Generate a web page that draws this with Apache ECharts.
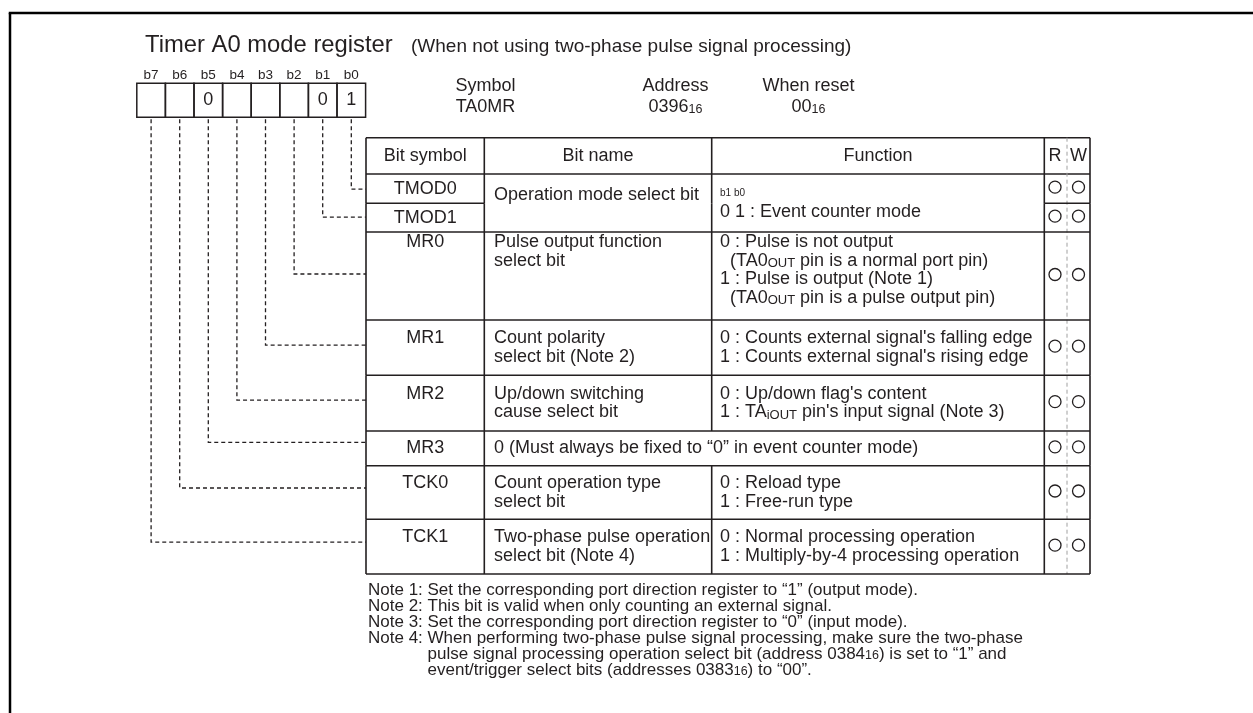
<!DOCTYPE html>
<html>
<head>
<meta charset="utf-8">
<script src="https://cdn.jsdelivr.net/npm/echarts@6.0.0/dist/echarts.min.js"></script>
<style>
html,body{margin:0;padding:0;background:#ffffff;}
#chart{width:1253px;height:713px;}
</style>
</head>
<body>
<div id="chart"></div>
<script>
// ===== data =====
const titleText = 'Timer A0 mode register';
const subtitleText = '(When not using two-phase pulse signal processing)';
const bitLabels = ['b7', 'b6', 'b5', 'b4', 'b3', 'b2', 'b1', 'b0'];
const bitValues = ['', '', '0', '', '', '', '0', '1'];
const infoLabels = ['Symbol', 'Address', 'When reset'];
const infoValues = ['TA0MR', '0396{sub|16}', '00{sub|16}'];
const headerLabels = ['Bit symbol', 'Bit name', 'Function', 'R', 'W'];
const bitSymbols = ['TMOD0', 'TMOD1', 'MR0', 'MR1', 'MR2', 'MR3', 'TCK0', 'TCK1'];
const bitNames = [
  'Operation mode select bit',
  null,
  'Pulse output function\nselect bit',
  'Count polarity\nselect bit (Note 2)',
  'Up/down switching\ncause select bit',
  '0 (Must always be fixed to “0” in event counter mode)',
  'Count operation type\nselect bit',
  'Two-phase pulse operation\nselect bit (Note 4)'
];
const bitFunctions = [
  '{tiny|b1 b0}\n0 1 : Event counter mode',
  null,
  '0 : Pulse is not output\n  (TA0{sc|OUT} pin is a normal port pin)\n1 : Pulse is output (Note 1)\n  (TA0{sc|OUT} pin is a pulse output pin)',
  "0 : Counts external signal's falling edge\n1 : Counts external signal's rising edge",
  "0 : Up/down flag's content\n1 : TA{sc|iOUT} pin's input signal (Note 3)",
  null,
  '0 : Reload type\n1 : Free-run type',
  '0 : Normal processing operation\n1 : Multiply-by-4 processing operation'
];
const readable = [true, true, true, true, true, true, true, true];
const writable = [true, true, true, true, true, true, true, true];
const notes = [
  ['Note 1: ', 'Set the corresponding port direction register to “1” (output mode).'],
  ['Note 2: ', 'This bit is valid when only counting an external signal.'],
  ['Note 3: ', 'Set the corresponding port direction register to “0” (input mode).'],
  ['Note 4: ', 'When performing two-phase pulse signal processing, make sure the two-phase\npulse signal processing operation select bit (address 0384{sub|16}) is set to “1” and\nevent/trigger select bits (addresses 0383{sub|16}) to “00”.']
];

// ===== layout & style =====
const FONT = "'Liberation Sans', Arial, Helvetica, sans-serif";
const INK = '#231f20';
const BODY = 18;
const NOTE = 17;
const LAY = {
  frameX: 10, frameY: 13,
  titleX: 145, titleY: 45.8, titleSize: 23.8,
  subX: 411, subY: 47.2, subSize: 19,
  infoX: [485.5, 675.5, 808.5], infoLabelY: 86, infoValueY: 107,
  regLeft: 136.8, regTop: 83.3, regBottom: 117.3, cellW: 28.6, bitLabelY: 75, bitValueY: 100.5,
  tblTop: 137.7, headBottom: 174, headY: 156,
  rowBottoms: [203.3, 232, 320, 375.3, 431, 465.7, 519.3, 574],
  colX: [366, 484.3, 711.7, 1044.3, 1090],
  rwDivX: 1067, rX: 1055, wX: 1078.5, circleR: 6,
  leaderOffset: [0.5, -0.5, -2, -2.5, -3, -6, -4.5, -4.5],
  lineH: 18.6, padTop: 10, topRows: [2], spanNameShift: -8,
  nameX: 494, funcX: 720,
  notesX: 368, notesY: 590, notesLineH: 16
};
const RICH = {
  sub: { fontSize: 12.5, fontFamily: FONT, fill: INK, verticalAlign: 'bottom' },
  sc: { fontSize: 13, fontFamily: FONT, fill: INK, verticalAlign: 'bottom' },
  tiny: { fontSize: 10, fontFamily: FONT, fill: INK }
};

function pt(api, x, y) { return api.coord([x, y]); }
function seg(api, x1, y1, x2, y2, st) {
  const a = pt(api, x1, y1), b = pt(api, x2, y2);
  return { type: 'line', shape: { x1: a[0], y1: a[1], x2: b[0], y2: b[1] },
    style: Object.assign({ stroke: INK, lineWidth: 1.6, fill: 'none' }, st || {}) };
}
function label(api, x, y, text, size, align) {
  const p = pt(api, x, y);
  return { type: 'text', x: p[0], y: p[1],
    style: { text: text, fontSize: size, fontFamily: FONT, fill: INK,
      align: align || 'left', verticalAlign: 'middle', rich: RICH } };
}
function ring(api, x, y) {
  const p = pt(api, x, y);
  return { type: 'circle', shape: { cx: p[0], cy: p[1], r: LAY.circleR },
    style: { fill: 'none', stroke: INK, lineWidth: 1.3 } };
}
function rowTop(i) { return i === 0 ? LAY.headBottom : LAY.rowBottoms[i - 1]; }
function rowMid(i) { return (rowTop(i) + LAY.rowBottoms[i]) / 2; }
function blockStart(top, bot, n, i) {
  if (LAY.topRows.indexOf(i) >= 0) return top + LAY.padTop;
  return (top + bot) / 2 - (n - 1) * LAY.lineH / 2;
}

const measureCtx = document.createElement('canvas').getContext('2d');
measureCtx.font = NOTE + 'px ' + FONT;

// ===== series renderers =====
function renderFrame(params, api) {
  const ch = [];
  ch.push(seg(api, LAY.frameX - 1.25, LAY.frameY, 1253, LAY.frameY, { lineWidth: 2.5, stroke: '#000' }));
  ch.push(seg(api, LAY.frameX, LAY.frameY, LAY.frameX, 713, { lineWidth: 2.5, stroke: '#000' }));
  ch.push(label(api, LAY.titleX, LAY.titleY, titleText, LAY.titleSize));
  ch.push(label(api, LAY.subX, LAY.subY, subtitleText, LAY.subSize));
  infoLabels.forEach(function (t, k) {
    ch.push(label(api, LAY.infoX[k], LAY.infoLabelY, t, BODY, 'center'));
    ch.push(label(api, LAY.infoX[k], LAY.infoValueY, infoValues[k], BODY, 'center'));
  });
  return { type: 'group', children: ch };
}

function renderRegister(params, api) {
  const i = params.dataIndex;
  const x0 = LAY.regLeft + i * LAY.cellW, x1 = x0 + LAY.cellW, cx = x0 + LAY.cellW / 2;
  const ch = [];
  const a = pt(api, x0, LAY.regTop), b = pt(api, x1, LAY.regBottom);
  ch.push({ type: 'rect', shape: { x: a[0], y: a[1], width: b[0] - a[0], height: b[1] - a[1] },
    style: { fill: 'none', stroke: INK, lineWidth: 1.5 } });
  ch.push(label(api, cx, LAY.bitLabelY, bitLabels[i], 13.5, 'center'));
  if (bitValues[i]) ch.push(label(api, cx, LAY.bitValueY, bitValues[i], BODY, 'center'));
  const r = bitLabels.length - 1 - i;
  const ly = rowMid(r) + LAY.leaderOffset[r];
  ch.push({ type: 'polyline', shape: { points: [pt(api, cx, LAY.regBottom + 2), pt(api, cx, ly), pt(api, LAY.colX[0], ly)] },
    style: { fill: 'none', stroke: INK, lineWidth: 1.3, lineDash: [4, 3] } });
  return { type: 'group', children: ch };
}

function renderHeader(params, api) {
  const j = params.dataIndex;
  const C = LAY.colX;
  const ch = [];
  if (j < 3) ch.push(label(api, (C[j] + C[j + 1]) / 2, LAY.headY, headerLabels[j], BODY, 'center'));
  else ch.push(label(api, j === 3 ? LAY.rX : LAY.wX, LAY.headY, headerLabels[j], BODY, 'center'));
  if (j === 0) {
    ch.push(seg(api, C[0], LAY.tblTop, C[4], LAY.tblTop));
    ch.push(seg(api, C[0], LAY.headBottom, C[4], LAY.headBottom));
    C.forEach(function (x) { ch.push(seg(api, x, LAY.tblTop, x, LAY.headBottom)); });
    const last = LAY.rowBottoms[LAY.rowBottoms.length - 1];
    ch.push(seg(api, LAY.rwDivX, LAY.tblTop, LAY.rwDivX, last, { stroke: '#a0a0a0', lineWidth: 1, lineDash: [4, 3] }));
  }
  return { type: 'group', children: ch };
}

function renderRow(params, api) {
  const i = params.dataIndex;
  const C = LAY.colX;
  const top = rowTop(i), bot = LAY.rowBottoms[i];
  const ch = [];
  const mergedAcross = bitFunctions[i] === null && bitNames[i] !== null;
  C.forEach(function (x, ci) {
    if (ci === 2 && mergedAcross) return;
    ch.push(seg(api, x, top, x, bot));
  });
  if (i + 1 < bitSymbols.length && bitNames[i + 1] === null) {
    ch.push(seg(api, C[0], bot, C[1], bot));
    ch.push(seg(api, C[3], bot, C[4], bot));
  } else {
    ch.push(seg(api, C[0], bot, C[4], bot));
  }
  let symY = (top + bot) / 2;
  if (bitNames[i] !== null) {
    const span = (i + 1 < bitNames.length && bitNames[i + 1] === null) ? 2 : 1;
    const cellBot = LAY.rowBottoms[i + span - 1];
    const lines = bitNames[i].split('\n');
    let y0 = blockStart(top, cellBot, lines.length, i);
    if (span === 2) y0 += LAY.spanNameShift;
    lines.forEach(function (t, k) { ch.push(label(api, LAY.nameX, y0 + k * LAY.lineH, t, BODY)); });
    if (span === 1) symY = blockStart(top, bot, lines.length, i);
  }
  ch.push(label(api, (C[0] + C[1]) / 2, symY, bitSymbols[i], BODY, 'center'));
  if (bitFunctions[i] !== null) {
    const span = (i + 1 < bitFunctions.length && bitFunctions[i + 1] === null && bitNames[i + 1] === null) ? 2 : 1;
    const cellBot = LAY.rowBottoms[i + span - 1];
    const lines = bitFunctions[i].split('\n');
    const y0 = blockStart(top, cellBot, lines.length, i);
    lines.forEach(function (t, k) { ch.push(label(api, LAY.funcX, y0 + k * LAY.lineH, t, BODY)); });
  }
  const cy = (top + bot) / 2 - 1.5;
  if (readable[i]) ch.push(ring(api, LAY.rX, cy));
  if (writable[i]) ch.push(ring(api, LAY.wX, cy));
  return { type: 'group', children: ch };
}

function renderNote(params, api) {
  const j = params.dataIndex;
  let idx = 0;
  for (let q = 0; q < j; q++) idx += notes[q][1].split('\n').length;
  const ch = [];
  const y = LAY.notesY + idx * LAY.notesLineH;
  ch.push(label(api, LAY.notesX, y, notes[j][0].trim(), NOTE));
  const textX = LAY.notesX + measureCtx.measureText(notes[j][0]).width;
  notes[j][1].split('\n').forEach(function (t, k) {
    ch.push(label(api, textX, y + k * LAY.notesLineH, t, NOTE));
  });
  return { type: 'group', children: ch };
}

const chart = echarts.init(document.getElementById('chart'), null, { renderer: 'canvas' });
chart.setOption({
  animation: false,
  backgroundColor: '#ffffff',
  grid: { left: 0, right: 0, top: 0, bottom: 0, containLabel: false },
  xAxis: { type: 'value', min: 0, max: 1253, show: false },
  yAxis: { type: 'value', min: 0, max: 713, inverse: true, show: false },
  series: [
    { type: 'custom', silent: true, renderItem: renderFrame, data: [[0, 0]] },
    { type: 'custom', silent: true, renderItem: renderRegister, data: bitLabels.map(function (b, i) { return [i, 0]; }) },
    { type: 'custom', silent: true, renderItem: renderHeader, data: headerLabels.map(function (h, i) { return [i, 0]; }) },
    { type: 'custom', silent: true, renderItem: renderRow, data: bitSymbols.map(function (s, i) { return [i, 0]; }) },
    { type: 'custom', silent: true, renderItem: renderNote, data: notes.map(function (n, i) { return [i, 0]; }) }
  ]
});
</script>
</body>
</html>
